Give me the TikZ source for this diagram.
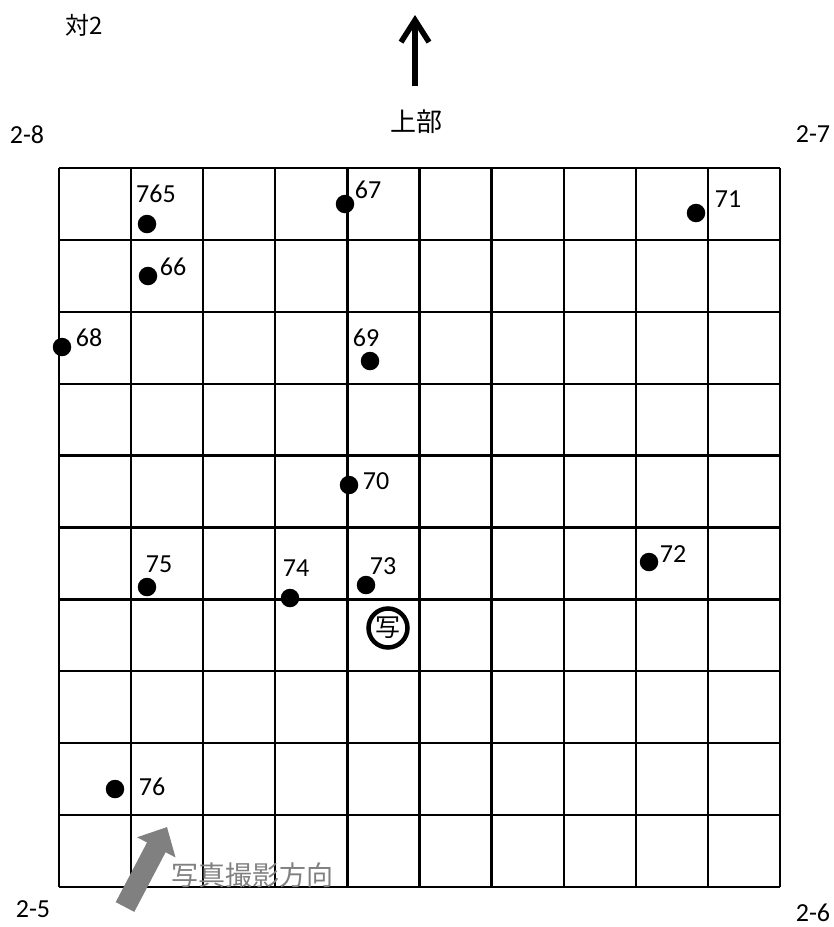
\documentclass[tikz,border=0pt]{standalone}
\usepackage{fontspec}
\setmainfont{Carlito}
\newfontfamily\jpfont{Noto Sans CJK JP}
\usetikzlibrary{arrows.meta}

\begin{document}
\begin{tikzpicture}[x=1pt, y=-1pt,
        gridline/.style={line width=2.3pt},
        midline/.style={line width=3.8pt},
        dot/.style={circle, fill=black, inner sep=0pt, minimum size=18.5pt},
        num/.style={inner sep=0pt, font=\fontsize{26}{26}\selectfont},
        jp/.style={inner sep=0pt, font=\jpfont\fontsize{24}{24}\selectfont}]
    \useasboundingbox (0,0) rectangle (834,927);
    % grid, 10 x 10
    \foreach \i in {0,...,10} {
        \draw[gridline] (59+72.1*\i,168) -- (59+72.1*\i,887);
        \draw[gridline] (59,168+71.9*\i) -- (780,168+71.9*\i);
    }
    \draw[midline] (419.5,168) -- (419.5,887);
    \draw[midline] (59,527.5) -- (780,527.5);

    % titles and corners
    \node[jp] (title) at (84,25) {対2};
    \node[jp, font=\jpfont\fontsize{26}{26}\selectfont] (top) at (416,122) {上部};
    \coordinate (upbase) at (415,86);
    \coordinate (uptip) at (415,15);
    \draw[line width=5.5pt, -{Straight Barb[length=22pt, width=28pt]}] (upbase) -- (uptip);
    \node[num] (c28) at (27,135) {2-8};
    \node[num] (c27) at (813,134) {2-7};
    \node[num] (c25) at (33,909) {2-5};
    \node[num] (c26) at (813,913) {2-6};

    % points
    \node[dot] (p765) at (147,224) {};
    \node[num] (l765) at (156,194) {765};
    \node[dot] (p67) at (345,204) {};
    \node[num] (l67) at (368,190) {67};
    \node[dot] (p66) at (148,276) {};
    \node[num] (l66) at (173,267) {66};
    \node[dot] (p68) at (62,347) {};
    \node[num] (l68) at (89,338) {68};
    \node[dot] (p69) at (370,361) {};
    \node[num] (l69) at (366,338) {69};
    \node[dot] (p71) at (696,213) {};
    \node[num] (l71) at (728,199) {71};
    \node[dot] (p70) at (349,485) {};
    \node[num] (l70) at (376,481) {70};
    \node[dot] (p75) at (147,587) {};
    \node[num] (l75) at (159,564) {75};
    \node[dot] (p74) at (290,598) {};
    \node[num] (l74) at (296,568) {74};
    \node[dot] (p73) at (366,585) {};
    \node[num] (l73) at (383,566) {73};
    \node[dot] (p72) at (649,562) {};
    \node[num] (l72) at (673,554) {72};
    \node[dot] (p76) at (115,789) {};
    \node[num] (l76) at (152,787) {76};

    % photo position
    \node[jp, draw, circle, line width=4.5pt, minimum size=39pt, font=\jpfont\fontsize{25}{25}\selectfont] (photo) at (388,628) {写};

    % photo direction
    \coordinate (camtail) at (125,907);
    \coordinate (camtip) at (167,827);
    \draw[gray, line width=21pt, -{Triangle[length=23pt, width=42pt]}] (camtail) -- (camtip);
    \node[jp, gray, font=\jpfont\fontsize{27}{27}\selectfont] (camlabel) at (252,875) {写真撮影方向};
\end{tikzpicture}
\end{document}
